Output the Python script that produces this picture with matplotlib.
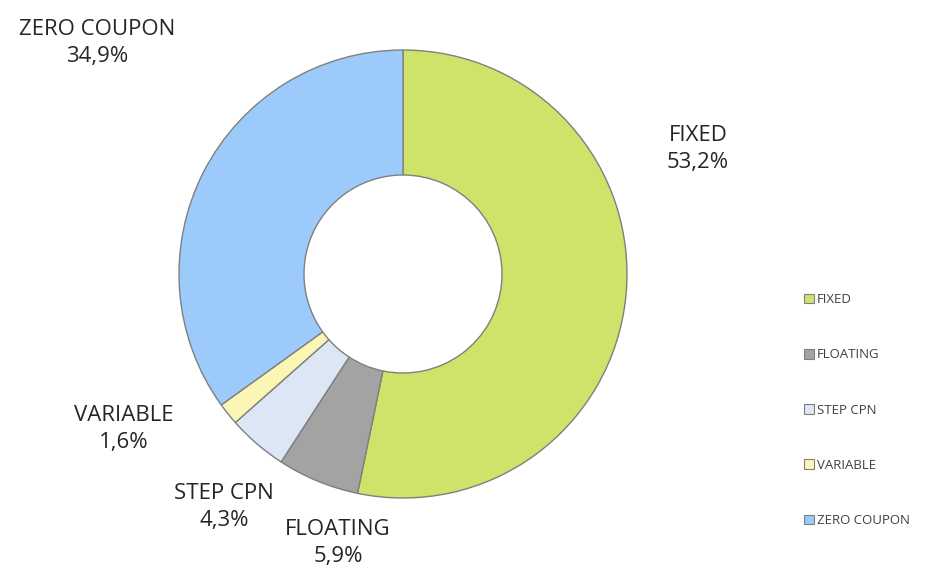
import matplotlib.pyplot as plt
from matplotlib.patches import Patch

# data
categories = ["FIXED", "FLOATING", "STEP CPN", "VARIABLE", "ZERO COUPON"]
shares = [53.2, 5.9, 4.3, 1.6, 34.9]
colors = ["#cfe26a", "#a3a3a3", "#dce6f4", "#fcf6b4", "#9ccbfb"]

fig = plt.figure(figsize=(9.25, 5.7), dpi=100)
ax = fig.add_axes([0, 0, 1, 1])

wedges, _ = ax.pie(shares, colors=colors, startangle=90, counterclock=False,
                   center=(403, 296), radius=224, frame=True,
                   wedgeprops=dict(width=125, edgecolor="#7f7f7f", linewidth=1))
ax.set_xlim(0, 925)
ax.set_ylim(0, 570)
ax.set_aspect("equal")
ax.axis("off")

# labels (pixel positions, y up)
label_pos = {
    "FIXED": (698, 570 - 149),
    "FLOATING": (338, 570 - 543),
    "STEP CPN": (224, 570 - 507),
    "VARIABLE": (124, 570 - 429),
    "ZERO COUPON": (97, 570 - 43),
}
for cat, val in zip(categories, shares):
    x, y = label_pos[cat]
    txt = f"{cat}\n{val:.1f}%".replace(".", ",")
    ax.text(x, y, txt, ha="center", va="center", fontsize=16,
            family="Open Sans", color="#262626", linespacing=1.4)

handles = [Patch(facecolor=c, edgecolor="#7f7f7f", linewidth=0.8) for c in colors]
leg = ax.legend(handles, categories, loc="center left",
                bbox_to_anchor=(792 / 925, (570 - 410) / 570),
                frameon=False, labelspacing=3.2,
                handlelength=0.75, handleheight=0.75, handletextpad=0.25,
                prop=dict(family="Open Sans", size=9.5))
for t in leg.get_texts():
    t.set_color("#404040")

fig.savefig("out.png", dpi=100)
